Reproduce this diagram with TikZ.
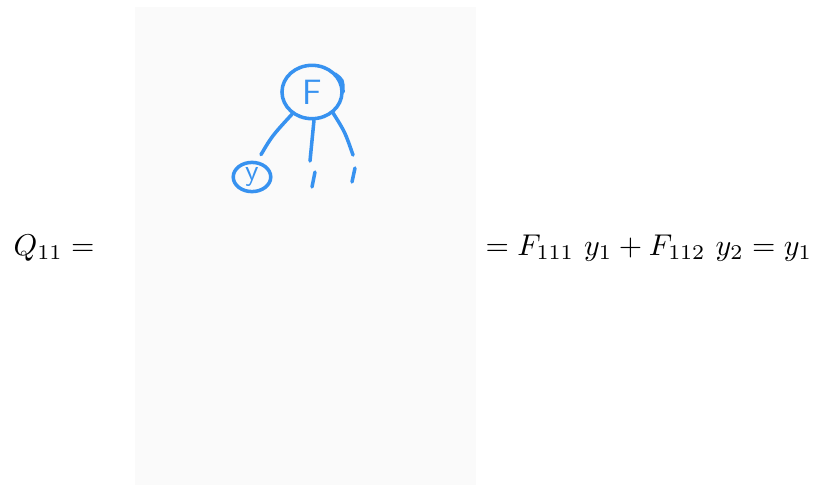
\documentclass[tikz,border=0pt]{standalone}
\usepackage{amsmath}
\usepackage{tikz}
\usetikzlibrary{shapes.geometric}
\usetikzlibrary{calc}
\definecolor{inkblue}{RGB}{55,146,240}
\definecolor{panel}{RGB}{250,250,250}
\tikzset{
  ink/.style={draw=inkblue, line width=1.2pt, line cap=round},
  blob/.style={ink, ellipse, inner sep=0pt, text=inkblue, font=\sffamily},
  eqn/.style={anchor=base west, inner sep=0pt, transform shape, scale=1.025},
}

\begin{document}
\begin{tikzpicture}[x=0.012cm, y=-0.012cm]
\useasboundingbox (0,0) rectangle (816,485);
\fill[panel] (135,7) rectangle (476,485);
\node[eqn] (lhs) at (13,255) {$Q_{11}=$};
\node[eqn] (rhs) at (485,255) {$=F_{111}\ y_1+F_{112}\ y_2=y_1$};
\node[blob, minimum width=0.72cm, minimum height=0.64cm, font=\sffamily\large] (F) at (312,92) {F};
\node[blob, minimum width=0.45cm, minimum height=0.35cm, font=\sffamily\normalsize] (y) at (252,177) {y};
\draw[ink] (335,74) .. controls (343,80) .. (343,92);
\coordinate (mid) at (310,161);
\coordinate (midA) at (315,172);
\coordinate (midB) at (312,187);
\coordinate (rgt) at (353,155);
\coordinate (rgtA) at (355,168);
\coordinate (rgtB) at (352,182);
\draw[ink] (F.-132) .. controls (272,136) .. ($(y.north)+(9,-6)$);
\draw[ink] (F.-86) -- (mid);
\draw[ink] (midA) -- (midB);
\draw[ink] (F.-45) .. controls (345,132) .. (rgt);
\draw[ink] (rgtA) -- (rgtB);
\end{tikzpicture}
\end{document}
